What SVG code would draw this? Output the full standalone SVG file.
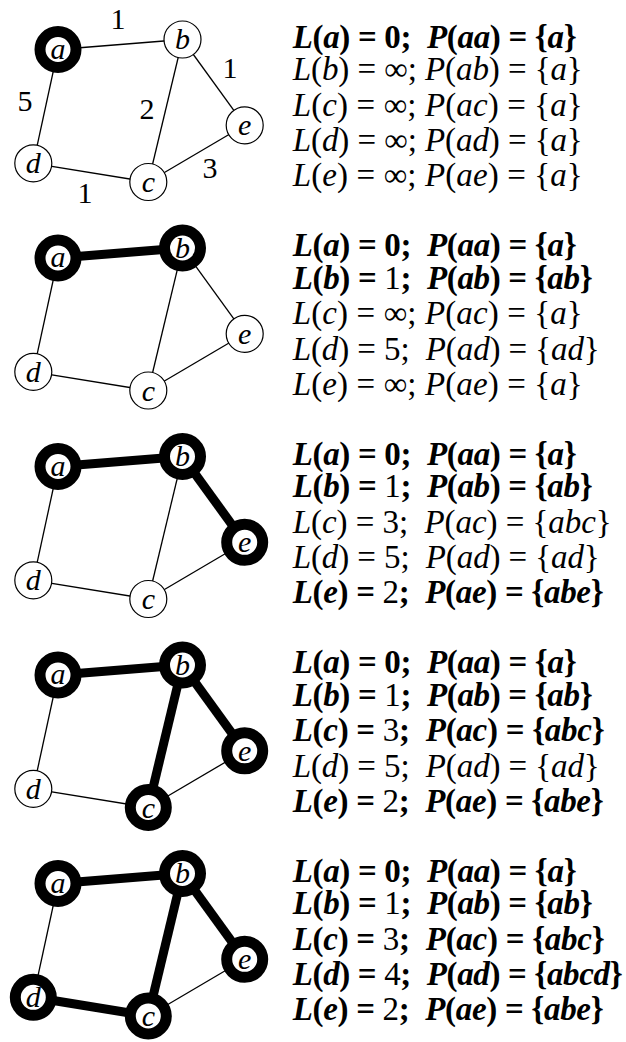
<svg xmlns="http://www.w3.org/2000/svg" width="626" height="1042" viewBox="0 0 626 1042">
<style>
.e{stroke:#000;stroke-width:1.3;fill:none}
.E{stroke:#000;stroke-width:9;fill:none}
.n{fill:#fff;stroke:#000;stroke-width:1.2}
.N{fill:#fff;stroke:#000;stroke-width:11}
text{font-family:'Liberation Serif','Times New Roman',serif}
.lb{font-style:italic;font-size:30px;text-anchor:middle}
.w{font-size:30px;text-anchor:middle}
.t{font-size:33px}
.b{font-weight:bold}
.i{font-style:italic}
.r{font-weight:normal}
</style>
<rect width="626" height="1042" fill="#fff"/>

<!-- Panel 1 -->
<g id="panel1">
<g id="edges1">
<line class="e" x1="58" y1="49.5" x2="182.5" y2="39.5"/>
<line class="e" x1="58" y1="49.5" x2="33.3" y2="163.3"/>
<line class="e" x1="182.5" y1="39.5" x2="148.3" y2="182"/>
<line class="e" x1="182.5" y1="39.5" x2="244.7" y2="125.3"/>
<line class="e" x1="33.3" y1="163.3" x2="148.3" y2="182"/>
<line class="e" x1="148.3" y1="182" x2="244.7" y2="125.3"/>
</g>
<g id="weights1">
<text class="w" x="118" y="29">1</text>
<text class="w" x="25" y="110.5">5</text>
<text class="w" x="147" y="118.5">2</text>
<text class="w" x="230" y="77.5">1</text>
<text class="w" x="210" y="177.5">3</text>
<text class="w" x="85" y="202.5">1</text>
</g>
<g id="p1-a"><circle class="N" cx="58" cy="49.5" r="18"/><text class="lb" x="58" y="58.5">a</text></g>
<g id="p1-b"><circle class="n" cx="182.5" cy="39.5" r="18.5"/><text class="lb" x="182.5" y="49">b</text></g>
<g id="p1-c"><circle class="n" cx="148.3" cy="182" r="18.5"/><text class="lb" x="148.3" y="192">c</text></g>
<g id="p1-d"><circle class="n" cx="33.3" cy="163.3" r="18.5"/><text class="lb" x="33.3" y="173.3">d</text></g>
<g id="p1-e"><circle class="n" cx="244.7" cy="125.3" r="18.5"/><text class="lb" x="244.7" y="135">e</text></g>
<g id="text1" class="t">
<text class="b t" x="292.7" y="47.5" textLength="284"><tspan class="i">L</tspan>(<tspan class="i">a</tspan>) = 0;&#160; <tspan class="i">P</tspan>(<tspan class="i">aa</tspan>) = {<tspan class="i">a</tspan>}</text>
<text class="t" x="292.7" y="80" textLength="290"><tspan class="i">L</tspan>(<tspan class="i">b</tspan>) = ∞; <tspan class="i">P</tspan>(<tspan class="i">ab</tspan>) = {<tspan class="i">a</tspan>}</text>
<text class="t" x="292.7" y="115.5" textLength="290"><tspan class="i">L</tspan>(<tspan class="i">c</tspan>) = ∞; <tspan class="i">P</tspan>(<tspan class="i">ac</tspan>) = {<tspan class="i">a</tspan>}</text>
<text class="t" x="292.7" y="151" textLength="290"><tspan class="i">L</tspan>(<tspan class="i">d</tspan>) = ∞; <tspan class="i">P</tspan>(<tspan class="i">ad</tspan>) = {<tspan class="i">a</tspan>}</text>
<text class="t" x="292.7" y="186" textLength="290"><tspan class="i">L</tspan>(<tspan class="i">e</tspan>) = ∞; <tspan class="i">P</tspan>(<tspan class="i">ae</tspan>) = {<tspan class="i">a</tspan>}</text>
</g>
</g>

<!-- Panel 2 -->
<g id="panel2" transform="translate(0,208.5)">
<g id="edges2">
<line class="E" x1="58" y1="49.5" x2="182.5" y2="39.5"/>
<line class="e" x1="58" y1="49.5" x2="33.3" y2="163.3"/>
<line class="e" x1="182.5" y1="39.5" x2="148.3" y2="182"/>
<line class="e" x1="182.5" y1="39.5" x2="244.7" y2="125.3"/>
<line class="e" x1="33.3" y1="163.3" x2="148.3" y2="182"/>
<line class="e" x1="148.3" y1="182" x2="244.7" y2="125.3"/>
</g>
<g id="p2-a"><circle class="N" cx="58" cy="49.5" r="18"/><text class="lb" x="58" y="58.5">a</text></g>
<g id="p2-b"><circle class="N" cx="182.5" cy="39.5" r="18"/><text class="lb" x="182.5" y="49">b</text></g>
<g id="p2-c"><circle class="n" cx="148.3" cy="182" r="18.5"/><text class="lb" x="148.3" y="192">c</text></g>
<g id="p2-d"><circle class="n" cx="33.3" cy="163.3" r="18.5"/><text class="lb" x="33.3" y="173.3">d</text></g>
<g id="p2-e"><circle class="n" cx="244.7" cy="125.3" r="18.5"/><text class="lb" x="244.7" y="135">e</text></g>
<g id="text2">
<text class="b t" x="292.7" y="47.5" textLength="284"><tspan class="i">L</tspan>(<tspan class="i">a</tspan>) = 0;&#160; <tspan class="i">P</tspan>(<tspan class="i">aa</tspan>) = {<tspan class="i">a</tspan>}</text>
<text class="b t" x="292.7" y="80" textLength="300"><tspan class="i">L</tspan>(<tspan class="i">b</tspan>) = <tspan class="r">1</tspan>;&#160; <tspan class="i">P</tspan>(<tspan class="i">ab</tspan>) = {<tspan class="i">ab</tspan>}</text>
<text class="t" x="292.7" y="115.5" textLength="290"><tspan class="i">L</tspan>(<tspan class="i">c</tspan>) = ∞; <tspan class="i">P</tspan>(<tspan class="i">ac</tspan>) = {<tspan class="i">a</tspan>}</text>
<text class="t" x="292.7" y="151" textLength="307"><tspan class="i">L</tspan>(<tspan class="i">d</tspan>) = 5;&#160; <tspan class="i">P</tspan>(<tspan class="i">ad</tspan>) = {<tspan class="i">ad</tspan>}</text>
<text class="t" x="292.7" y="186" textLength="290"><tspan class="i">L</tspan>(<tspan class="i">e</tspan>) = ∞; <tspan class="i">P</tspan>(<tspan class="i">ae</tspan>) = {<tspan class="i">a</tspan>}</text>
</g>
</g>

<!-- Panel 3 -->
<g id="panel3" transform="translate(0,417)">
<g id="edges3">
<line class="E" x1="58" y1="49.5" x2="182.5" y2="39.5"/>
<line class="e" x1="58" y1="49.5" x2="33.3" y2="163.3"/>
<line class="e" x1="182.5" y1="39.5" x2="148.3" y2="182"/>
<line class="E" x1="182.5" y1="39.5" x2="244.7" y2="125.3"/>
<line class="e" x1="33.3" y1="163.3" x2="148.3" y2="182"/>
<line class="e" x1="148.3" y1="182" x2="244.7" y2="125.3"/>
</g>
<g id="p3-a"><circle class="N" cx="58" cy="49.5" r="18"/><text class="lb" x="58" y="58.5">a</text></g>
<g id="p3-b"><circle class="N" cx="182.5" cy="39.5" r="18"/><text class="lb" x="182.5" y="49">b</text></g>
<g id="p3-c"><circle class="n" cx="148.3" cy="182" r="18.5"/><text class="lb" x="148.3" y="192">c</text></g>
<g id="p3-d"><circle class="n" cx="33.3" cy="163.3" r="18.5"/><text class="lb" x="33.3" y="173.3">d</text></g>
<g id="p3-e"><circle class="N" cx="244.7" cy="125.3" r="18"/><text class="lb" x="244.7" y="135">e</text></g>
<g id="text3">
<text class="b t" x="292.7" y="47.5" textLength="284"><tspan class="i">L</tspan>(<tspan class="i">a</tspan>) = 0;&#160; <tspan class="i">P</tspan>(<tspan class="i">aa</tspan>) = {<tspan class="i">a</tspan>}</text>
<text class="b t" x="292.7" y="80" textLength="300"><tspan class="i">L</tspan>(<tspan class="i">b</tspan>) = <tspan class="r">1</tspan>;&#160; <tspan class="i">P</tspan>(<tspan class="i">ab</tspan>) = {<tspan class="i">ab</tspan>}</text>
<text class="t" x="292.7" y="115.5" textLength="319"><tspan class="i">L</tspan>(<tspan class="i">c</tspan>) = 3;&#160; <tspan class="i">P</tspan>(<tspan class="i">ac</tspan>) = {<tspan class="i">abc</tspan>}</text>
<text class="t" x="292.7" y="151" textLength="307"><tspan class="i">L</tspan>(<tspan class="i">d</tspan>) = 5;&#160; <tspan class="i">P</tspan>(<tspan class="i">ad</tspan>) = {<tspan class="i">ad</tspan>}</text>
<text class="b t" x="292.7" y="186" textLength="311"><tspan class="i">L</tspan>(<tspan class="i">e</tspan>) = <tspan class="r">2</tspan>;&#160; <tspan class="i">P</tspan>(<tspan class="i">ae</tspan>) = {<tspan class="i">abe</tspan>}</text>
</g>
</g>

<!-- Panel 4 -->
<g id="panel4" transform="translate(0,625.5)">
<g id="edges4">
<line class="E" x1="58" y1="49.5" x2="182.5" y2="39.5"/>
<line class="e" x1="58" y1="49.5" x2="33.3" y2="163.3"/>
<line class="E" x1="182.5" y1="39.5" x2="148.3" y2="182"/>
<line class="E" x1="182.5" y1="39.5" x2="244.7" y2="125.3"/>
<line class="e" x1="33.3" y1="163.3" x2="148.3" y2="182"/>
<line class="e" x1="148.3" y1="182" x2="244.7" y2="125.3"/>
</g>
<g id="p4-a"><circle class="N" cx="58" cy="49.5" r="18"/><text class="lb" x="58" y="58.5">a</text></g>
<g id="p4-b"><circle class="N" cx="182.5" cy="39.5" r="18"/><text class="lb" x="182.5" y="49">b</text></g>
<g id="p4-c"><circle class="N" cx="148.3" cy="182" r="18"/><text class="lb" x="148.3" y="192">c</text></g>
<g id="p4-d"><circle class="n" cx="33.3" cy="163.3" r="18.5"/><text class="lb" x="33.3" y="173.3">d</text></g>
<g id="p4-e"><circle class="N" cx="244.7" cy="125.3" r="18"/><text class="lb" x="244.7" y="135">e</text></g>
<g id="text4">
<text class="b t" x="292.7" y="47.5" textLength="284"><tspan class="i">L</tspan>(<tspan class="i">a</tspan>) = 0;&#160; <tspan class="i">P</tspan>(<tspan class="i">aa</tspan>) = {<tspan class="i">a</tspan>}</text>
<text class="b t" x="292.7" y="80" textLength="300"><tspan class="i">L</tspan>(<tspan class="i">b</tspan>) = <tspan class="r">1</tspan>;&#160; <tspan class="i">P</tspan>(<tspan class="i">ab</tspan>) = {<tspan class="i">ab</tspan>}</text>
<text class="b t" x="292.7" y="115.5" textLength="312"><tspan class="i">L</tspan>(<tspan class="i">c</tspan>) = <tspan class="r">3</tspan>;&#160; <tspan class="i">P</tspan>(<tspan class="i">ac</tspan>) = {<tspan class="i">abc</tspan>}</text>
<text class="t" x="292.7" y="151" textLength="307"><tspan class="i">L</tspan>(<tspan class="i">d</tspan>) = 5;&#160; <tspan class="i">P</tspan>(<tspan class="i">ad</tspan>) = {<tspan class="i">ad</tspan>}</text>
<text class="b t" x="292.7" y="186" textLength="311"><tspan class="i">L</tspan>(<tspan class="i">e</tspan>) = <tspan class="r">2</tspan>;&#160; <tspan class="i">P</tspan>(<tspan class="i">ae</tspan>) = {<tspan class="i">abe</tspan>}</text>
</g>
</g>

<!-- Panel 5 -->
<g id="panel5" transform="translate(0,834)">
<g id="edges5">
<line class="E" x1="58" y1="49.5" x2="182.5" y2="39.5"/>
<line class="e" x1="58" y1="49.5" x2="33.3" y2="163.3"/>
<line class="E" x1="182.5" y1="39.5" x2="148.3" y2="182"/>
<line class="E" x1="182.5" y1="39.5" x2="244.7" y2="125.3"/>
<line class="E" x1="33.3" y1="163.3" x2="148.3" y2="182"/>
<line class="e" x1="148.3" y1="182" x2="244.7" y2="125.3"/>
</g>
<g id="p5-a"><circle class="N" cx="58" cy="49.5" r="18"/><text class="lb" x="58" y="58.5">a</text></g>
<g id="p5-b"><circle class="N" cx="182.5" cy="39.5" r="18"/><text class="lb" x="182.5" y="49">b</text></g>
<g id="p5-c"><circle class="N" cx="148.3" cy="182" r="18"/><text class="lb" x="148.3" y="192">c</text></g>
<g id="p5-d"><circle class="N" cx="33.3" cy="163.3" r="18"/><text class="lb" x="33.3" y="173.3">d</text></g>
<g id="p5-e"><circle class="N" cx="244.7" cy="125.3" r="18"/><text class="lb" x="244.7" y="135">e</text></g>
<g id="text5">
<text class="b t" x="292.7" y="47.5" textLength="284"><tspan class="i">L</tspan>(<tspan class="i">a</tspan>) = 0;&#160; <tspan class="i">P</tspan>(<tspan class="i">aa</tspan>) = {<tspan class="i">a</tspan>}</text>
<text class="b t" x="292.7" y="80" textLength="300"><tspan class="i">L</tspan>(<tspan class="i">b</tspan>) = <tspan class="r">1</tspan>;&#160; <tspan class="i">P</tspan>(<tspan class="i">ab</tspan>) = {<tspan class="i">ab</tspan>}</text>
<text class="b t" x="292.7" y="115.5" textLength="312"><tspan class="i">L</tspan>(<tspan class="i">c</tspan>) = <tspan class="r">3</tspan>;&#160; <tspan class="i">P</tspan>(<tspan class="i">ac</tspan>) = {<tspan class="i">abc</tspan>}</text>
<text class="b t" x="292.7" y="151" textLength="330"><tspan class="i">L</tspan>(<tspan class="i">d</tspan>) = <tspan class="r">4</tspan>;&#160; <tspan class="i">P</tspan>(<tspan class="i">ad</tspan>) = {<tspan class="i">abcd</tspan>}</text>
<text class="b t" x="292.7" y="186" textLength="311"><tspan class="i">L</tspan>(<tspan class="i">e</tspan>) = <tspan class="r">2</tspan>;&#160; <tspan class="i">P</tspan>(<tspan class="i">ae</tspan>) = {<tspan class="i">abe</tspan>}</text>
</g>
</g>
</svg>
